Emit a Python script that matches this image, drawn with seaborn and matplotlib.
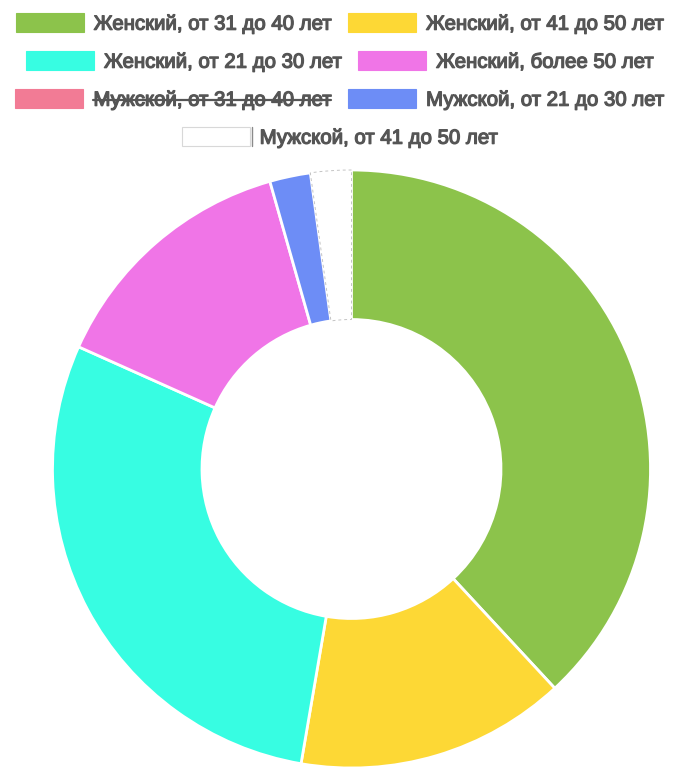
import matplotlib
matplotlib.use("Agg")
import matplotlib.pyplot as plt
import matplotlib.patheffects as pe
from matplotlib.patches import Rectangle
import seaborn as sns

sns.set_theme(style="white")
plt.rcParams['font.family'] = ['Liberation Sans', 'DejaVu Sans']

# legend order = drawing order (clockwise from 12 o'clock)
labels = [
    "Женский, от 31 до 40 лет",
    "Женский, от 41 до 50 лет",
    "Женский, от 21 до 30 лет",
    "Женский, более 50 лет",
    "Мужской, от 31 до 40 лет",
    "Мужской, от 21 до 30 лет",
    "Мужской, от 41 до 50 лет",
]
# share of the ring, % (hidden series is not drawn)
values = [38.1, 14.6, 29.0, 13.9, 0.0, 2.2, 2.2]
hidden = [False, False, False, False, True, False, False]
colors = ["#8cc34b", "#fdd835", "#37fde2", "#f075e7", "#f27b95", "#6d8df6", "#ffffff"]

W, H = 679, 767
TEXT = "#555555"

fig = plt.figure(figsize=(W / 100, H / 100), dpi=100)

# doughnut: centre ~ (351, 469) px, radius ~299 px
cx, cy, r = 351.5, 469, 299
ax = fig.add_axes([(cx - r) / W, (H - cy - r) / H, 2 * r / W, 2 * r / H])
vis = [i for i in range(len(values)) if not hidden[i]]
wedges, _ = ax.pie(
    [values[i] for i in vis],
    colors=[colors[i] for i in vis],
    startangle=90,
    counterclock=False,
    wedgeprops=dict(width=0.5, edgecolor="white", linewidth=2),
)
# the white slice only shows through a faint grey outline
wedges[-1].set_edgecolor("#c4c4c4")
wedges[-1].set_linewidth(0.7)
wedges[-1].set_linestyle((0, (3, 3)))
ax.set_xlim(-1, 1)
ax.set_ylim(-1, 1)
ax.axis("off")

# legend, Chart.js style: rows centred, 2 items per row
lax = fig.add_axes([0, 0, 1, 1], zorder=-1)
lax.set_xlim(0, W)
lax.set_ylim(H, 0)
lax.axis("off")

fs_px = 20.4
fs_pt = fs_px * 0.72
box_w, box_h = 68, 19
gap, pad, row_h, top = 10, 17, 38, 22.5

renderer = fig.canvas.get_renderer()
widths = []
for lab in labels:
    t = lax.text(0, 0, lab, fontsize=fs_pt)
    widths.append(t.get_window_extent(renderer).width)
    t.remove()

rows = [[0, 1], [2, 3], [4, 5], [6]]
for ri, row in enumerate(rows):
    yc = top + ri * row_h
    item_w = [box_w + gap + widths[i] for i in row]
    x = (W - sum(item_w) - pad * (len(row) - 1)) / 2
    for i, iw in zip(row, item_w):
        ec = "#d8d8d8" if colors[i] == "#ffffff" else colors[i]
        lax.add_patch(Rectangle((x, yc - box_h / 2), box_w, box_h,
                                facecolor=colors[i], edgecolor=ec, lw=0.8))
        if colors[i] == "#ffffff":
            lax.plot([x + box_w + 2] * 2, [yc - box_h / 2, yc + box_h / 2],
                     color="#8a8a8a", lw=1)
        tx = x + box_w + gap
        lax.text(tx, yc + 7.2, labels[i], fontsize=fs_pt, color=TEXT,
                 va="baseline", ha="left",
                 path_effects=[pe.withStroke(linewidth=0.9, foreground=TEXT)])
        if hidden[i]:
            lax.plot([tx, tx + widths[i]], [yc + 1, yc + 1], color=TEXT, lw=1.6)
        x += iw + pad

fig.savefig("out.png", dpi=100)
